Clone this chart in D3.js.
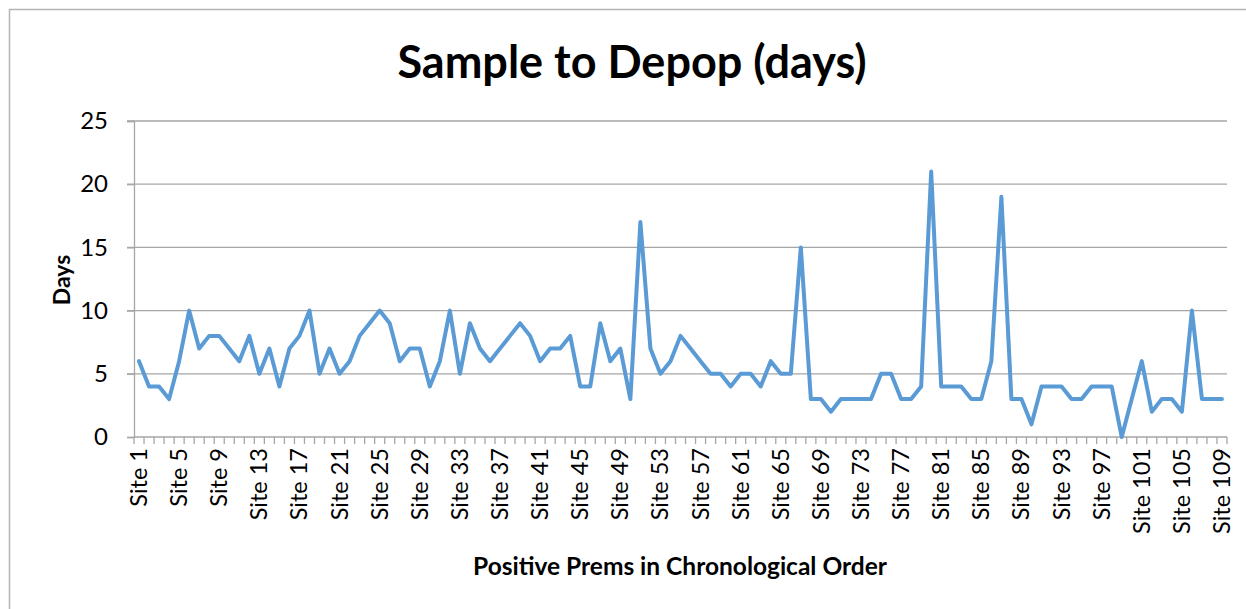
<!DOCTYPE html>
<html>
<head>
<meta charset="utf-8">
<script src="https://cdn.jsdelivr.net/npm/d3@7"></script>
<style>
  body { margin: 0; background: #fff; }
  text { font-family: Lato, "Open Sans", sans-serif; fill: #000; }
</style>
</head>
<body>
<div id="lineChart"></div>
<script>
// values
var sites = d3.range(1, 110).map(function(i) { return "Site " + i; });
var days = [6, 4, 4, 3, 6, 10, 7, 8, 8, 7, 6, 8, 5, 7, 4, 7, 8, 10, 5, 7,
  5, 6, 8, 9, 10, 9, 6, 7, 7, 4, 6, 10, 5, 9, 7, 6, 7, 8, 9, 8,
  6, 7, 7, 8, 4, 4, 9, 6, 7, 3, 17, 7, 5, 6, 8, 7, 6, 5, 5, 4,
  5, 5, 4, 6, 5, 5, 15, 3, 3, 2, 3, 3, 3, 3, 5, 5, 3, 3, 4, 21,
  4, 4, 4, 3, 3, 6, 19, 3, 3, 1, 4, 4, 4, 3, 3, 4, 4, 4, 0, 3,
  6, 2, 3, 3, 2, 10, 3, 3, 3];
var yTicks = [0, 5, 10, 15, 20, 25];

var width = 1246, height = 609;
var margin = {top: 121, right: 19, bottom: 172, left: 134};

var svg = d3.select("#lineChart")
  .append("svg")
  .attr("width", width)
  .attr("height", height);

// chart frame
svg.append("rect")
  .attr("x", 9.5).attr("y", 9.5)
  .attr("width", width + 20).attr("height", height + 20)
  .attr("fill", "none")
  .attr("stroke", "#b3b3b3")
  .attr("stroke-width", 1.5);

var innerW = width - margin.left - margin.right;
var innerH = height - margin.top - margin.bottom;

var xScale = d3.scaleBand().domain(sites).range([0, innerW]),
    yScale = d3.scaleLinear().domain([0, 25]).range([innerH, 0]);

var g = svg.append("g")
  .attr("transform", "translate(" + margin.left + "," + margin.top + ")");

// gridlines
g.append("g")
  .selectAll("line")
  .data(yTicks.filter(function(d) { return d > 0; }))
  .enter().append("line")
  .attr("x1", -7).attr("x2", innerW)
  .attr("y1", function(d) { return yScale(d); })
  .attr("y2", function(d) { return yScale(d); })
  .attr("stroke", "#a6a6a6")
  .attr("stroke-width", 1.3);

// y axis
var yAxis = g.append("g")
  .call(d3.axisLeft(yScale).tickValues(yTicks).tickSize(7).tickPadding(19));
yAxis.selectAll("line").attr("stroke", "#a6a6a6").attr("stroke-width", 1.3);
yAxis.select(".domain").attr("stroke", "#a6a6a6").attr("stroke-width", 1.3);
yAxis.selectAll("text")
  .style("font-size", "24px")
  .style("font-family", "Lato, sans-serif")
  .attr("fill", "#000");

// x axis: tick marks between categories, labels every 4th site
var xAxisG = g.append("g").attr("transform", "translate(0," + innerH + ")");
xAxisG.append("line")
  .attr("x1", 0).attr("x2", innerW)
  .attr("stroke", "#a6a6a6").attr("stroke-width", 1.3);
xAxisG.selectAll(".tick")
  .data(sites)
  .enter().append("line")
  .attr("x1", function(d) { return xScale(d) + xScale.bandwidth(); })
  .attr("x2", function(d) { return xScale(d) + xScale.bandwidth(); })
  .attr("y1", 0).attr("y2", 7)
  .attr("stroke", "#a6a6a6").attr("stroke-width", 1.3);
xAxisG.append("line")
  .attr("x1", 0).attr("x2", 0).attr("y1", 0).attr("y2", 7)
  .attr("stroke", "#a6a6a6").attr("stroke-width", 1.3);

xAxisG.selectAll(".xlabel")
  .data(sites.filter(function(d, i) { return i % 4 === 0; }))
  .enter().append("text")
  .attr("class", "xlabel")
  .attr("transform", function(d) {
    return "translate(" + (xScale(d) + xScale.bandwidth() / 2 + 8) + ",11) rotate(-90)";
  })
  .attr("text-anchor", "end")
  .style("font-size", "23.5px")
  .text(function(d) { return d; });

// the line
var line = d3.line()
  .x(function(d, i) { return xScale(sites[i]) + xScale.bandwidth() / 2; })
  .y(function(d) { return yScale(d); });

g.append("path")
  .datum(days)
  .attr("d", line)
  .attr("fill", "none")
  .attr("stroke", "#5b9bd5")
  .attr("stroke-width", 4)
  .attr("stroke-linejoin", "round")
  .attr("stroke-linecap", "round");

// titles
svg.append("text")
  .attr("x", 632).attr("y", 78)
  .attr("text-anchor", "middle")
  .style("font-size", "45px")
  .style("font-weight", "bold")
  .text("Sample to Depop (days)");

svg.append("text")
  .attr("transform", "translate(70,280) rotate(-90)")
  .attr("text-anchor", "middle")
  .style("font-size", "23px")
  .style("font-weight", "bold")
  .text("Days");

svg.append("text")
  .attr("x", 680).attr("y", 575)
  .attr("text-anchor", "middle")
  .style("font-size", "24.5px")
  .style("font-weight", "bold")
  .text("Positive Prems in Chronological Order");
</script>
</body>
</html>
